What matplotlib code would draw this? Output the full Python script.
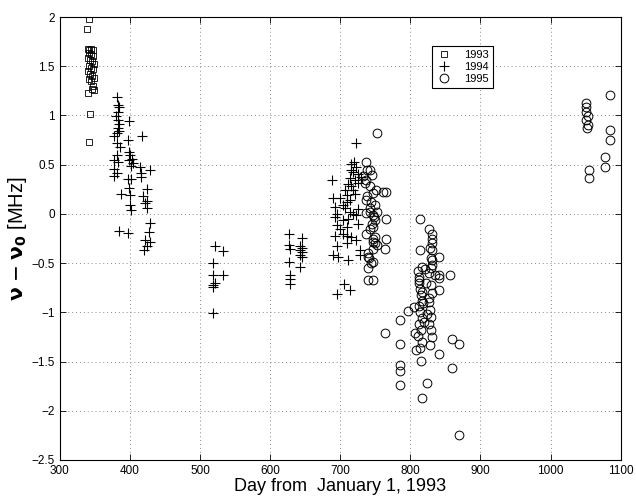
import matplotlib
matplotlib.use("Agg")
import matplotlib.pyplot as plt

plt.rcParams['font.family'] = ['Liberation Sans', 'DejaVu Sans']

# ---- data (day from Jan 1 1993, frequency offset MHz) ----
days_1993 = [342, 339, 340, 342, 345, 348, 341, 344, 347, 340, 343, 346, 349, 341,
             344, 347, 340, 343, 346, 349, 341, 344, 348, 346, 349, 340, 343, 341]
vals_1993 = [1.98, 1.88, 1.68, 1.66, 1.67, 1.66, 1.63, 1.62, 1.60, 1.58, 1.56, 1.55, 1.52, 1.50,
             1.48, 1.47, 1.45, 1.42, 1.40, 1.38, 1.37, 1.35, 1.30, 1.27, 1.26, 1.23, 1.01, 0.73]

days_1994 = [
    # late Jan - Feb 1994
    381, 383, 385, 383, 383, 399, 385, 383, 381, 378, 381, 397, 417,
    398, 400, 403, 405, 398, 402, 378, 383, 378, 381, 378, 397, 401,
    414, 416, 416, 429, 424, 388, 398, 400, 418, 425, 400, 401, 421, 424,
    429, 385, 397, 427, 422, 429, 424, 420, 380, 384, 386, 382,
    # mid 1994
    521, 533, 519, 519, 533, 519, 521, 518, 519,
    627, 645, 627, 628, 643, 646, 643, 646, 643, 646, 627, 643, 628, 628, 628,
    # late 1994 - early 1995
    723, 688, 716, 723, 718, 726, 714, 721, 726, 707, 718, 709, 700, 714, 692,
    707, 714, 723, 692, 704, 695, 709, 692, 709, 716, 723, 695, 728, 690, 697,
    711, 728, 706, 714, 695, 716, 690, 709, 704, 721, 726, 711, 718, 700, 730,
    711, 716, 726, 704, 720, 709, 695
]
vals_1994 = [
    1.19, 1.11, 1.09, 1.04, 0.95, 0.94, 0.91, 0.87, 0.82, 0.79, 0.72, 0.75, 0.79,
    0.63, 0.60, 0.56, 0.52, 0.55, 0.49, 0.55, 0.53, 0.46, 0.42, 0.38, 0.35, 0.35,
    0.48, 0.42, 0.37, 0.45, 0.25, 0.20, 0.26, 0.19, 0.18, 0.13, 0.09, 0.04, 0.11, 0.06,
    -0.09, -0.17, -0.19, -0.18, -0.27, -0.29, -0.33, -0.37, 0.99, 0.84, 0.68, 0.60,
    -0.33, -0.38, -0.50, -0.62, -0.62, -0.72, -0.70, -0.74, -1.01,
    -0.20, -0.24, -0.32, -0.36, -0.33, -0.35, -0.37, -0.39, -0.42, -0.44, -0.49, -0.54, -0.62, -0.66, -0.71,
    0.72, 0.34, 0.51, 0.48, 0.43, 0.41, 0.36, 0.34, 0.31, 0.24, 0.24, 0.19, 0.157, 0.14, 0.07,
    0.056, 0.02, -0.01, -0.03, -0.06, -0.11, -0.13, -0.22, -0.22, -0.23, -0.27, -0.33, -0.37, -0.42, -0.44,
    -0.47, -0.42, -0.71, -0.77, -0.81, 0.28, 0.16, 0.12, 0.09, 0.20, 0.05, -0.05, 0.00, -0.15, 0.37,
    0.30, 0.45, -0.10, -0.20, 0.53, -0.30, 0.00
]

days_1995 = [
    # early 1995
    752, 737, 738, 737, 742, 765, 747, 737, 749, 742, 752, 737, 747, 765, 749, 745,
    747, 737, 749, 765, 747, 752, 764, 747, 740, 747, 740, 747, 740, 742, 745, 751,
    761, 733, 735, 738, 744, 742, 748, 743, 746, 750, 739, 741, 744,
    # spring 1995
    814, 831, 831, 831, 831, 814, 841, 831, 831, 816, 821, 841, 841, 856, 841,
    797, 785, 806, 785, 859, 870, 841, 815, 785, 785, 860, 824, 785, 817, 869, 764,
    811, 812, 813, 814, 815, 816, 812, 814, 816, 813, 815, 811, 817, 814, 812, 816,
    826, 828, 830, 827, 829, 831, 826, 828, 830, 827, 829, 831, 828, 826, 830, 805,
    820, 822, 808, 818, 824, 835,
    # late 1995
    1085, 1050, 1051, 1051, 1053, 1051, 1053, 1052, 1085, 1085, 1077, 1077, 1055, 1055
]
vals_1995 = [
    0.82, 0.53, 0.45, 0.34, 0.28, 0.225, 0.21, 0.14, 0.09, 0.06, 0.02, 0.005, -0.01, -0.056, -0.06, -0.10,
    -0.13, -0.20, -0.23, -0.26, -0.29, -0.32, -0.36, -0.36, -0.44, -0.49, -0.55, -0.67, -0.67, 0.45, 0.40,
    0.24, 0.22, 0.38, 0.31, 0.18, 0.12, 0.02, -0.03, -0.15, -0.25, -0.30, -0.40, -0.45, -0.50,
    -0.05, -0.20, -0.25, -0.30, -0.37, -0.37, -0.44, -0.47, -0.52, -0.54, -0.56, -0.62, -0.65, -0.62, -0.77,
    -0.99, -1.08, -1.21, -1.32, -1.27, -1.32, -1.42, -1.49, -1.54, -1.60, -1.57, -1.72, -1.74, -1.875, -2.25, -1.21,
    -0.58, -0.64, -0.70, -0.76, -0.82, -0.88, -0.94, -1.00, -1.06, -1.12, -1.18, -1.24, -1.30, -1.36, -0.67, -0.79,
    -0.15, -0.35, -0.45, -0.60, -0.72, -0.80, -0.90, -0.98, -1.05, -1.12, -1.18, -1.25, -1.33, -0.85, -0.55, -0.95,
    -1.10, -0.70, -1.38, -0.91, -1.02, -0.62,
    1.21, 1.13, 1.09, 1.03, 0.99, 0.95, 0.90, 0.87, 0.85, 0.75, 0.58, 0.48, 0.45, 0.36
]

x_ticks = [300, 400, 500, 600, 700, 800, 900, 1000, 1100]
y_ticks = [-2.5, -2, -1.5, -1, -0.5, 0, 0.5, 1, 1.5, 2]
y_tick_labels = ['\u22122.5', '\u22122', '\u22121.5', '\u22121', '\u22120.5', '0', '0.5', '1', '1.5', '2']

fig = plt.figure(figsize=(6.36, 5.0), dpi=100)
ax = fig.add_axes([0.094, 0.08, 0.882, 0.886])

ax.plot(days_1993, vals_1993, linestyle='none', marker='s', markersize=5,
        markerfacecolor='none', markeredgecolor='black', markeredgewidth=0.6, label='1993')
ax.plot(days_1994, vals_1994, linestyle='none', marker='+', markersize=6.5,
        color='black', markeredgewidth=0.8, label='1994')
ax.plot(days_1995, vals_1995, linestyle='none', marker='o', markersize=6.3,
        markerfacecolor='none', markeredgecolor='black', markeredgewidth=0.7, label='1995')

ax.set_xlim(300, 1100)
ax.set_ylim(-2.5, 2)
ax.set_xticks(x_ticks)
ax.set_yticks(y_ticks)
ax.set_yticklabels(y_tick_labels)
ax.tick_params(direction='in', top=True, right=True, length=4, labelsize=8.5, width=0.6)
ax.grid(True, linestyle=(0, (1, 3)), color='#888888', linewidth=0.7)
for s in ax.spines.values():
    s.set_linewidth(0.8)

ax.set_xlabel('Day from  January 1, 1993', fontsize=13, labelpad=1)
ax.set_ylabel(r'$\mathbf{\nu}$ $-$ $\mathbf{\nu}_{\mathbf{0}}$ [MHz]', fontsize=14.5, labelpad=2)

leg = ax.legend(loc='upper left', bbox_to_anchor=(0.654, 0.946), fontsize=8,
                frameon=True, fancybox=False, edgecolor='black', framealpha=1,
                handlelength=1.6, borderpad=0.3, labelspacing=0.2, handletextpad=1.0)
leg.get_frame().set_linewidth(0.8)

fig.savefig('out.png', dpi=100)
